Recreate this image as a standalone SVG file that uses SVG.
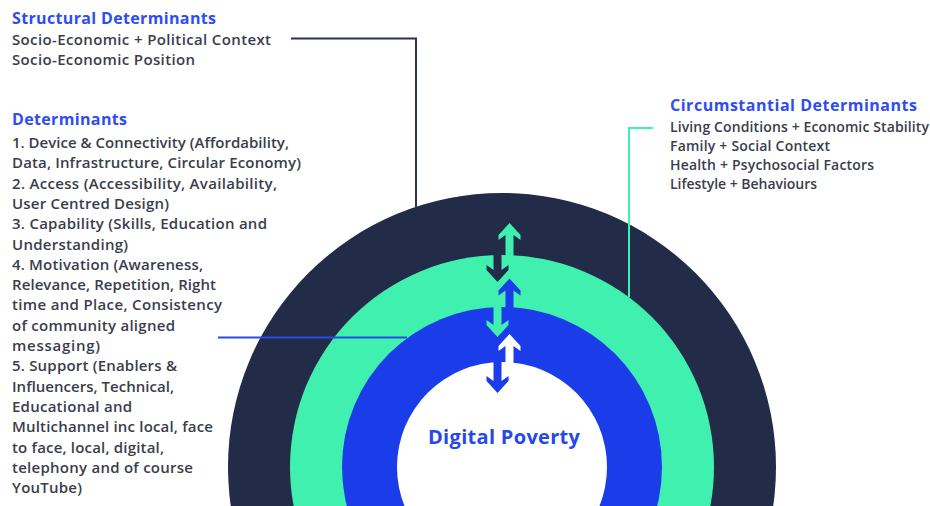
<svg xmlns="http://www.w3.org/2000/svg" width="930" height="506" viewBox="0 0 930 506">
<style>
.t{font-family:"Open Sans","Noto Sans","Liberation Sans",sans-serif;font-weight:700;font-size:16px;fill:#2E4DF2}
.b{font-family:"Open Sans","Noto Sans","Liberation Sans",sans-serif;font-weight:600;font-size:15px;fill:#3A3D4B}
.r{font-family:"Open Sans","Noto Sans","Liberation Sans",sans-serif;font-weight:600;font-size:14px;fill:#3A3D4B}
.c{font-family:"Open Sans","Noto Sans","Liberation Sans",sans-serif;font-weight:700;font-size:20px;fill:#2647EE}
.ln{fill:none;stroke-width:2}
</style>
<defs>
<path id="up" d="M0,0 L11,12 L11,17 L4,12 L4,40 L-4,40 L-4,12 L-11,17 L-11,12 Z"/>
<path id="dn" d="M0,0 L11,-12 L11,-17 L4,-12 L4,-45 L-4,-45 L-4,-12 L-11,-17 L-11,-12 Z"/>
</defs>
<rect width="930" height="506" fill="#FFFFFF"/>
<g id="rings">
<circle cx="502" cy="467" r="274" fill="#222B47"/>
<circle cx="502" cy="467" r="212" fill="#3FF0AF"/>
<circle cx="502" cy="467" r="160" fill="#1B3DE9"/>
<circle cx="502" cy="467" r="105" fill="#FFFFFF"/>
</g>
<g id="arrows">
<use href="#dn" x="497.5" y="282" fill="#222B47"/>
<use href="#up" x="509.5" y="223" fill="#3FF0AF"/>
<use href="#dn" x="497.5" y="337" fill="#3FF0AF"/>
<use href="#up" x="509.5" y="278.5" fill="#1B3DE9"/>
<use href="#dn" x="497.5" y="393" fill="#1B3DE9"/>
<use href="#up" x="509.5" y="334" fill="#FFFFFF"/>
</g>
<g id="connectors">
<path class="ln" d="M291,38.5 H416 V207" stroke="#2A3352"/>
<path class="ln" d="M653,128 H629 V297" stroke="#3FF0AF"/>
<path class="ln" d="M218,337.5 H407" stroke="#2A4AEA"/>
</g>
<g id="structural">
<text class="t" x="12" y="24" textLength="204">Structural Determinants</text>
<text class="b" x="12" y="45" textLength="259">Socio-Economic + Political Context</text>
<text class="b" x="12" y="65" textLength="183">Socio-Economic Position</text>
</g>
<g id="determinants">
<text class="t" x="12" y="125" textLength="115">Determinants</text>
<text class="b" x="12" y="148" textLength="277">1. Device &amp; Connectivity (Affordability,</text>
<text class="b" x="12" y="168.3" textLength="289">Data, Infrastructure, Circular Economy)</text>
<text class="b" x="12" y="188.6" textLength="265">2. Access (Accessibility, Availability,</text>
<text class="b" x="12" y="208.9" textLength="157">User Centred Design)</text>
<text class="b" x="12" y="229.2" textLength="255">3. Capability (Skills, Education and</text>
<text class="b" x="12" y="249.5" textLength="116">Understanding)</text>
<text class="b" x="12" y="269.8" textLength="191">4. Motivation (Awareness,</text>
<text class="b" x="12" y="290.1" textLength="204">Relevance, Repetition, Right</text>
<text class="b" x="12" y="310.4" textLength="210">time and Place, Consistency</text>
<text class="b" x="12" y="330.7" textLength="163">of community aligned</text>
<text class="b" x="12" y="351" textLength="88">messaging)</text>
<text class="b" x="12" y="371.3" textLength="165">5. Support (Enablers &amp;</text>
<text class="b" x="12" y="391.6" textLength="162">Influencers, Technical,</text>
<text class="b" x="12" y="411.9" textLength="120">Educational and</text>
<text class="b" x="12" y="432.2" textLength="201">Multichannel inc local, face</text>
<text class="b" x="12" y="452.5" textLength="152">to face, local, digital,</text>
<text class="b" x="12" y="472.8" textLength="181">telephony and of course</text>
<text class="b" x="12" y="493.1" textLength="70">YouTube)</text>
</g>
<g id="circumstantial">
<text class="t" x="670" y="111" textLength="247">Circumstantial Determinants</text>
<text class="r" x="670" y="132" textLength="259">Living Conditions + Economic Stability</text>
<text class="r" x="670" y="151" textLength="160">Family + Social Context</text>
<text class="r" x="670" y="170" textLength="204">Health + Psychosocial Factors</text>
<text class="r" x="670" y="189" textLength="147">Lifestyle + Behaviours</text>
</g>
<g id="core">
<text class="c" x="504" y="444" text-anchor="middle" textLength="152">Digital Poverty</text>
</g>
</svg>
